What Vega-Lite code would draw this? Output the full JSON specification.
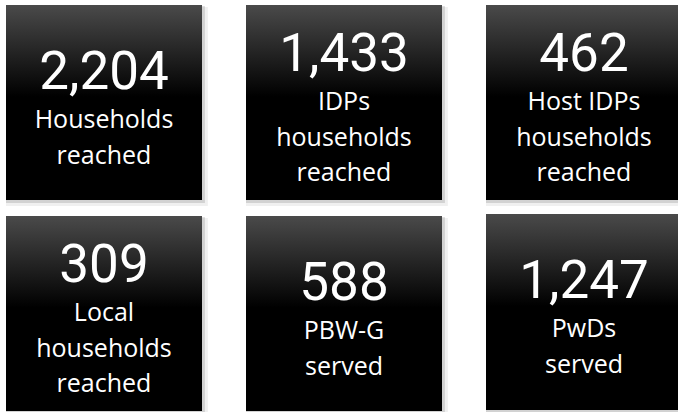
{
  "$schema": "https://vega.github.io/schema/vega-lite/v6.json",
  "padding": {"left": 6, "top": 5, "right": 0, "bottom": 0},
  "background": "#ffffff",
  "bounds": "flush",
  "data": {
    "values": [
      {"id": 1, "value": 2204, "label": "Households\nreached", "lines": 2},
      {"id": 2, "value": 1433, "label": "IDPs\nhouseholds\nreached", "lines": 3},
      {"id": 3, "value": 462, "label": "Host IDPs\nhouseholds\nreached", "lines": 3},
      {"id": 4, "value": 309, "label": "Local\nhouseholds\nreached", "lines": 3},
      {"id": 5, "value": 588, "label": "PBW-G\nserved", "lines": 2},
      {"id": 6, "value": 1247, "label": "PwDs\nserved", "lines": 2}
    ]
  },
  "columns": 3,
  "spacing": {"column": 44, "row": 16},
  "concat": [
    {"transform": [{"filter": "datum.id == 1"}], "width": 196, "height": 195,
     "encoding": {"x": {"datum": 0.5, "type": "quantitative", "scale": {"domain": [0, 1], "nice": false, "zero": false}, "axis": null}, "y": {"datum": 0, "type": "quantitative", "scale": {"domain": [0, 195], "reverse": true, "nice": false, "zero": false}, "axis": null}},
     "layer": [
      {"mark": {"type": "rect", "style": "sh1", "color": "#000000"}, "encoding": {"x": {"datum": 0}, "x2": {"datum": 1.03}, "y": {"datum": 2}, "y2": {"datum": 201}}},
      {"mark": {"type": "rect", "style": "sh2", "color": "#000000"}, "encoding": {"x": {"datum": 0}, "x2": {"datum": 1.015}, "y": {"datum": 1}, "y2": {"datum": 198}}},
      {"mark": {"type": "rect", "style": "tile", "color": {"gradient": "linear", "x1": 0, "y1": 0, "x2": 0, "y2": 1, "stops": [{"offset": 0, "color": "#4a4a4a"}, {"offset": 0.47, "color": "#000000"}, {"offset": 1, "color": "#000000"}]}}, "encoding": {"x": {"datum": 0}, "x2": {"datum": 1}, "y": {"datum": 0}, "y2": {"datum": 195}}},
      {"mark": {"type": "text", "style": "num", "color": "#ffffff"}, "encoding": {"y": {"datum": 84}, "text": {"field": "value", "type": "quantitative", "format": ","}}},
      {"mark": {"type": "text", "style": "lab", "color": "#ffffff"}, "encoding": {"y": {"datum": 123}, "text": {"field": "label", "type": "nominal"}}}
     ]},
    {"transform": [{"filter": "datum.id == 2"}], "width": 196, "height": 195,
     "encoding": {"x": {"datum": 0.5, "type": "quantitative", "scale": {"domain": [0, 1], "nice": false, "zero": false}, "axis": null}, "y": {"datum": 0, "type": "quantitative", "scale": {"domain": [0, 195], "reverse": true, "nice": false, "zero": false}, "axis": null}},
     "layer": [
      {"mark": {"type": "rect", "style": "sh1", "color": "#000000"}, "encoding": {"x": {"datum": 0}, "x2": {"datum": 1.03}, "y": {"datum": 2}, "y2": {"datum": 201}}},
      {"mark": {"type": "rect", "style": "sh2", "color": "#000000"}, "encoding": {"x": {"datum": 0}, "x2": {"datum": 1.015}, "y": {"datum": 1}, "y2": {"datum": 198}}},
      {"mark": {"type": "rect", "style": "tile", "color": {"gradient": "linear", "x1": 0, "y1": 0, "x2": 0, "y2": 1, "stops": [{"offset": 0, "color": "#4a4a4a"}, {"offset": 0.47, "color": "#000000"}, {"offset": 1, "color": "#000000"}]}}, "encoding": {"x": {"datum": 0}, "x2": {"datum": 1}, "y": {"datum": 0}, "y2": {"datum": 195}}},
      {"mark": {"type": "text", "style": "num", "color": "#ffffff"}, "encoding": {"y": {"datum": 66}, "text": {"field": "value", "type": "quantitative", "format": ","}}},
      {"mark": {"type": "text", "style": "lab", "color": "#ffffff"}, "encoding": {"y": {"datum": 105}, "text": {"field": "label", "type": "nominal"}}}
     ]},
    {"transform": [{"filter": "datum.id == 3"}], "width": 196, "height": 195,
     "encoding": {"x": {"datum": 0.5, "type": "quantitative", "scale": {"domain": [0, 1], "nice": false, "zero": false}, "axis": null}, "y": {"datum": 0, "type": "quantitative", "scale": {"domain": [0, 195], "reverse": true, "nice": false, "zero": false}, "axis": null}},
     "layer": [
      {"mark": {"type": "rect", "style": "sh1", "color": "#000000"}, "encoding": {"x": {"datum": 0}, "x2": {"datum": 1.03}, "y": {"datum": 2}, "y2": {"datum": 201}}},
      {"mark": {"type": "rect", "style": "sh2", "color": "#000000"}, "encoding": {"x": {"datum": 0}, "x2": {"datum": 1.015}, "y": {"datum": 1}, "y2": {"datum": 198}}},
      {"mark": {"type": "rect", "style": "tile", "color": {"gradient": "linear", "x1": 0, "y1": 0, "x2": 0, "y2": 1, "stops": [{"offset": 0, "color": "#4a4a4a"}, {"offset": 0.47, "color": "#000000"}, {"offset": 1, "color": "#000000"}]}}, "encoding": {"x": {"datum": 0}, "x2": {"datum": 1}, "y": {"datum": 0}, "y2": {"datum": 195}}},
      {"mark": {"type": "text", "style": "num", "color": "#ffffff"}, "encoding": {"y": {"datum": 66}, "text": {"field": "value", "type": "quantitative", "format": ","}}},
      {"mark": {"type": "text", "style": "lab", "color": "#ffffff"}, "encoding": {"y": {"datum": 105}, "text": {"field": "label", "type": "nominal"}}}
     ]},
    {"transform": [{"filter": "datum.id == 4"}], "width": 196, "height": 195,
     "encoding": {"x": {"datum": 0.5, "type": "quantitative", "scale": {"domain": [0, 1], "nice": false, "zero": false}, "axis": null}, "y": {"datum": 0, "type": "quantitative", "scale": {"domain": [0, 195], "reverse": true, "nice": false, "zero": false}, "axis": null}},
     "layer": [
      {"mark": {"type": "rect", "style": "sh1", "color": "#000000"}, "encoding": {"x": {"datum": 0}, "x2": {"datum": 1.03}, "y": {"datum": 2}, "y2": {"datum": 201}}},
      {"mark": {"type": "rect", "style": "sh2", "color": "#000000"}, "encoding": {"x": {"datum": 0}, "x2": {"datum": 1.015}, "y": {"datum": 1}, "y2": {"datum": 198}}},
      {"mark": {"type": "rect", "style": "tile", "color": {"gradient": "linear", "x1": 0, "y1": 0, "x2": 0, "y2": 1, "stops": [{"offset": 0, "color": "#4a4a4a"}, {"offset": 0.47, "color": "#000000"}, {"offset": 1, "color": "#000000"}]}}, "encoding": {"x": {"datum": 0}, "x2": {"datum": 1}, "y": {"datum": 0}, "y2": {"datum": 195}}},
      {"mark": {"type": "text", "style": "num", "color": "#ffffff"}, "encoding": {"y": {"datum": 66}, "text": {"field": "value", "type": "quantitative", "format": ","}}},
      {"mark": {"type": "text", "style": "lab", "color": "#ffffff"}, "encoding": {"y": {"datum": 105}, "text": {"field": "label", "type": "nominal"}}}
     ]},
    {"transform": [{"filter": "datum.id == 5"}], "width": 196, "height": 195,
     "encoding": {"x": {"datum": 0.5, "type": "quantitative", "scale": {"domain": [0, 1], "nice": false, "zero": false}, "axis": null}, "y": {"datum": 0, "type": "quantitative", "scale": {"domain": [0, 195], "reverse": true, "nice": false, "zero": false}, "axis": null}},
     "layer": [
      {"mark": {"type": "rect", "style": "sh1", "color": "#000000"}, "encoding": {"x": {"datum": 0}, "x2": {"datum": 1.03}, "y": {"datum": 2}, "y2": {"datum": 201}}},
      {"mark": {"type": "rect", "style": "sh2", "color": "#000000"}, "encoding": {"x": {"datum": 0}, "x2": {"datum": 1.015}, "y": {"datum": 1}, "y2": {"datum": 198}}},
      {"mark": {"type": "rect", "style": "tile", "color": {"gradient": "linear", "x1": 0, "y1": 0, "x2": 0, "y2": 1, "stops": [{"offset": 0, "color": "#4a4a4a"}, {"offset": 0.47, "color": "#000000"}, {"offset": 1, "color": "#000000"}]}}, "encoding": {"x": {"datum": 0}, "x2": {"datum": 1}, "y": {"datum": 0}, "y2": {"datum": 195}}},
      {"mark": {"type": "text", "style": "num", "color": "#ffffff"}, "encoding": {"y": {"datum": 84}, "text": {"field": "value", "type": "quantitative", "format": ","}}},
      {"mark": {"type": "text", "style": "lab", "color": "#ffffff"}, "encoding": {"y": {"datum": 123}, "text": {"field": "label", "type": "nominal"}}}
     ]},
    {"transform": [{"filter": "datum.id == 6"}], "width": 196, "height": 195,
     "encoding": {"x": {"datum": 0.5, "type": "quantitative", "scale": {"domain": [0, 1], "nice": false, "zero": false}, "axis": null}, "y": {"datum": 0, "type": "quantitative", "scale": {"domain": [0, 195], "reverse": true, "nice": false, "zero": false}, "axis": null}},
     "layer": [
      {"mark": {"type": "rect", "style": "sh1", "color": "#000000"}, "encoding": {"x": {"datum": 0}, "x2": {"datum": 1.03}, "y": {"datum": 0}, "y2": {"datum": 199}}},
      {"mark": {"type": "rect", "style": "sh2", "color": "#000000"}, "encoding": {"x": {"datum": 0}, "x2": {"datum": 1.015}, "y": {"datum": -1}, "y2": {"datum": 196}}},
      {"mark": {"type": "rect", "style": "tile", "color": {"gradient": "linear", "x1": 0, "y1": 0, "x2": 0, "y2": 1, "stops": [{"offset": 0, "color": "#4a4a4a"}, {"offset": 0.47, "color": "#000000"}, {"offset": 1, "color": "#000000"}]}}, "encoding": {"x": {"datum": 0}, "x2": {"datum": 1}, "y": {"datum": -2}, "y2": {"datum": 194}}},
      {"mark": {"type": "text", "style": "num", "color": "#ffffff"}, "encoding": {"y": {"datum": 82}, "text": {"field": "value", "type": "quantitative", "format": ","}}},
      {"mark": {"type": "text", "style": "lab", "color": "#ffffff"}, "encoding": {"y": {"datum": 121}, "text": {"field": "label", "type": "nominal"}}}
     ]}
  ],
  "config": {
    "view": {"stroke": null},
    "style": {
      "sh1": {"opacity": 0.06},
      "sh2": {"opacity": 0.12},
      "num": {"font": "Roboto", "fontSize": 53, "baseline": "alphabetic", "align": "center"},
      "lab": {"font": "Open Sans", "fontSize": 25, "baseline": "alphabetic", "align": "center", "lineBreak": "\n", "lineHeight": 35.5}
    }
  }
}
